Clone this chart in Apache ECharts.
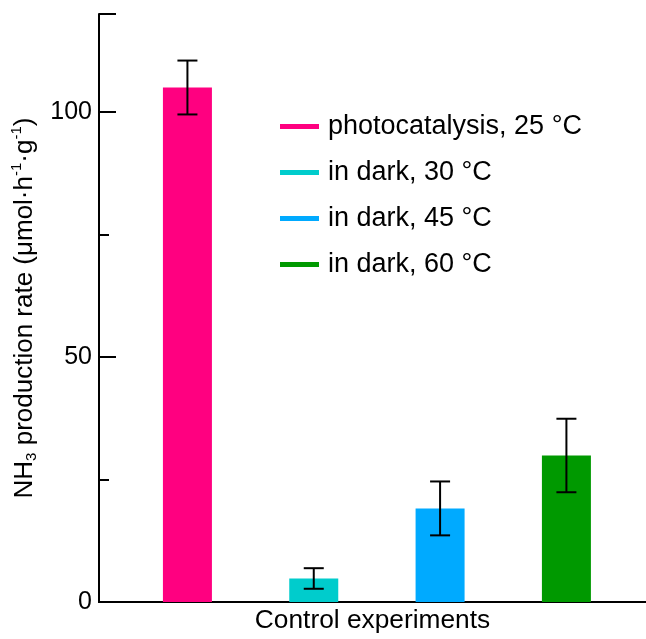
<!DOCTYPE html>
<html><head><meta charset="utf-8">
<script src="https://cdn.jsdelivr.net/npm/echarts@6/dist/echarts.min.js"></script>
<style>html,body{margin:0;padding:0;background:#fff}#c{width:646px;height:639px}</style>
</head><body><div id="c"></div>
<script>
const categories = ['photocatalysis, 25 °C', 'in dark, 30 °C', 'in dark, 45 °C', 'in dark, 60 °C'];
const positions = [1, 2, 3, 4];
const rates = [105, 4.8, 19.1, 29.9];
const errors = [5.5, 2.1, 5.5, 7.5];
const yTickLabels = [0, 50, 100];
const colors = ['#FF0080', '#00CCCC', '#00AAFF', '#009900'];
const xTitle = 'Control experiments';

const FONT = "'Liberation Sans', Arial, sans-serif";
const chart = echarts.init(document.getElementById('c'), null, {renderer: 'canvas'});

const barSeries = categories.map((name, i) => ({
  name: name,
  type: 'bar',
  barWidth: 49,
  barGap: '-100%',
  itemStyle: {color: colors[i]},
  data: [[positions[i], rates[i]]],
  z: 2
}));

const errData = rates.map((v, i) => [positions[i], v - errors[i], v + errors[i]]);

const errSeries = {
  type: 'custom',
  name: 'err',
  xAxisIndex: 0, yAxisIndex: 0,
  encode: {x: 0, y: [1, 2]},
  data: errData,
  z: 5,
  renderItem: function (params, api) {
    const x = api.value(0);
    const lo = api.coord([x, api.value(1)]);
    const hi = api.coord([x, api.value(2)]);
    const hw = 10;
    const style = {stroke: '#000', lineWidth: 2};
    return {
      type: 'group',
      children: [
        {type: 'line', shape: {x1: lo[0], y1: lo[1], x2: hi[0], y2: hi[1]}, style: style},
        {type: 'line', shape: {x1: lo[0] - hw, y1: lo[1], x2: lo[0] + hw, y2: lo[1]}, style: style},
        {type: 'line', shape: {x1: hi[0] - hw, y1: hi[1], x2: hi[0] + hw, y2: hi[1]}, style: style}
      ]
    };
  }
};

chart.setOption({
  animation: false,
  backgroundColor: '#fff',
  textStyle: {fontFamily: FONT},
  grid: {left: 99, top: 14, right: 0, bottom: 33, containLabel: false},
  legend: {
    orient: 'vertical',
    left: 275, top: 108,
    icon: 'rect',
    itemWidth: 39, itemHeight: 5,
    itemGap: 19,
    data: categories,
    textStyle: {fontFamily: FONT, fontSize: 27, color: '#000', padding: [0, 0, 0, 4]},
    selectedMode: false
  },
  xAxis: [{
    type: 'value', min: 0.3, max: 4.63,
    axisLine: {show: true, lineStyle: {color: '#000', width: 2}},
    axisTick: {show: false}, axisLabel: {show: false}, splitLine: {show: false},
    name: xTitle, nameLocation: 'middle', nameGap: 6,
    nameTextStyle: {fontFamily: FONT, fontSize: 26.3, color: '#000'}
  }, {
    type: 'value', min: 0.3, max: 4.63, position: 'top',
    axisLine: {show: true, lineStyle: {color: '#000', width: 2}},
    axisTick: {show: false}, axisLabel: {show: false}, splitLine: {show: false}
  }],
  yAxis: [{
    type: 'value', min: 0, max: 120, interval: 50,
    axisLine: {show: true, lineStyle: {color: '#000', width: 2}},
    axisTick: {show: true, inside: true, length: 17, lineStyle: {color: '#000', width: 2}},
    splitLine: {show: false},
    axisLabel: {
      fontFamily: FONT, fontSize: 25, color: '#000', margin: 7,
      formatter: v => (yTickLabels.indexOf(v) >= 0 ? String(v) : '')
    },
    name: 'NH{sub|3} production rate (μmol·h{sup|-1}·g{sup|-1})',
    nameLocation: 'middle', nameGap: 53,
    nameTextStyle: {
      fontFamily: FONT, fontSize: 26, color: '#000', lineHeight: 30,
      rich: {
        sub: {fontFamily: FONT, fontSize: 15, color: '#000', verticalAlign: 'bottom', lineHeight: 30, padding: [12, 0, 0, 0]},
        sup: {fontFamily: FONT, fontSize: 15, color: '#000', verticalAlign: 'top', lineHeight: 30, padding: [0, 0, 12, 0]}
      }
    }
  }, {
    type: 'value', min: 0, max: 120, interval: 25, position: 'left',
    axisLine: {show: false},
    axisTick: {show: true, inside: true, length: 10, lineStyle: {color: '#000', width: 2}},
    axisLabel: {show: false}, splitLine: {show: false}
  }],
  series: [...barSeries, errSeries]
});
</script></body></html>
